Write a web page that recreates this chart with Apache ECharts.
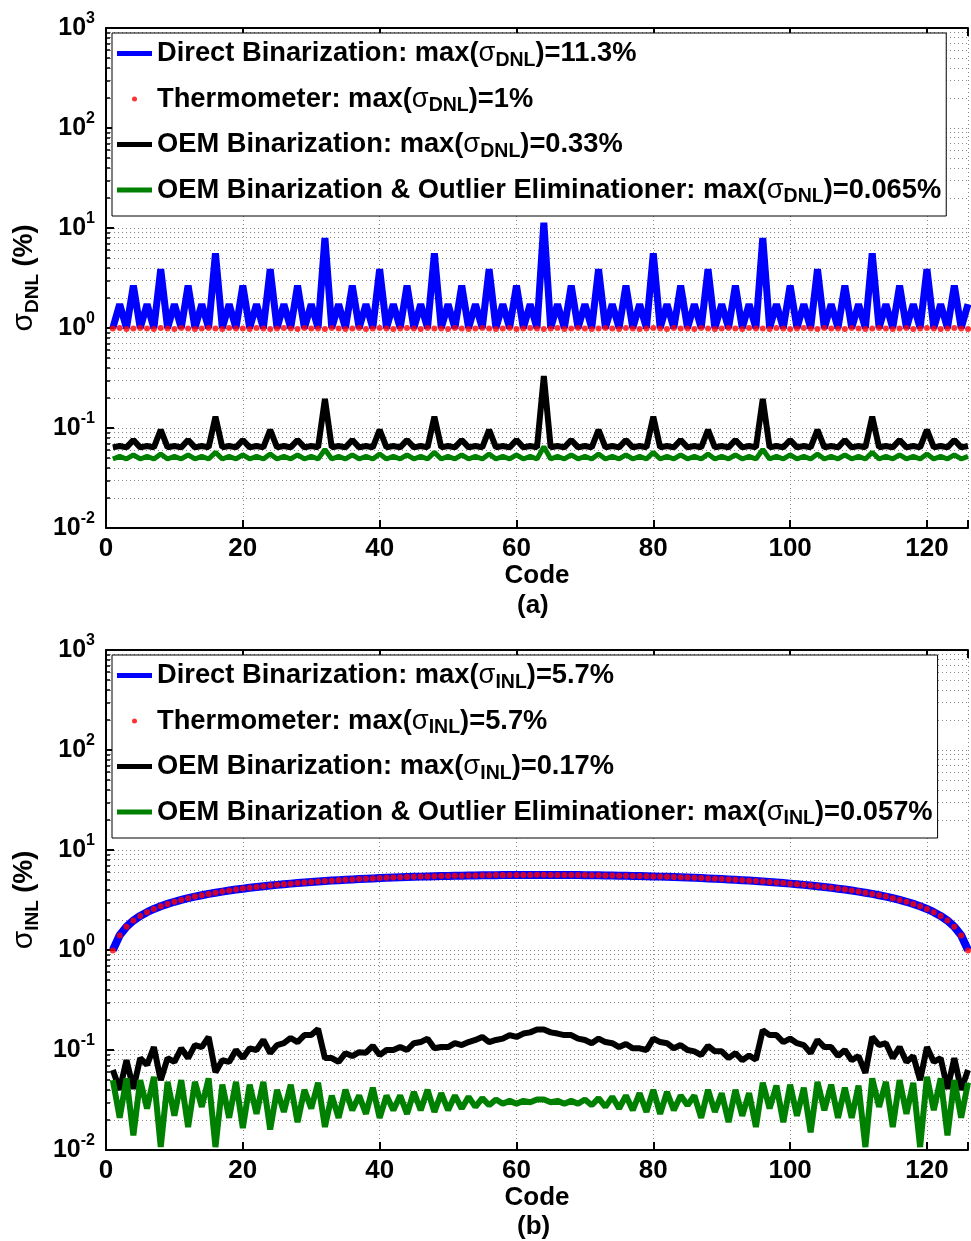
<!DOCTYPE html>
<html><head><meta charset="utf-8">
<script src="https://cdn.jsdelivr.net/npm/echarts@6/dist/echarts.min.js"></script>
<style>html,body{margin:0;padding:0;background:#fff;overflow:hidden}#c{width:971px;height:1241px}</style>
</head><body><div id="c"></div><script>
// ---------- DATA ----------
const codes = [1,2,3,4,5,6,7,8,9,10,11,12,13,14,15,16,17,18,19,20,21,22,23,24,25,26,27,28,29,30,31,32,
33,34,35,36,37,38,39,40,41,42,43,44,45,46,47,48,49,50,51,52,53,54,55,56,57,58,59,60,61,62,63,64,
65,66,67,68,69,70,71,72,73,74,75,76,77,78,79,80,81,82,83,84,85,86,87,88,89,90,91,92,93,94,95,96,
97,98,99,100,101,102,103,104,105,106,107,108,109,110,111,112,113,114,115,116,117,118,119,120,121,122,123,124,125,126];
const xTicks = [0,20,40,60,80,100,120];

const dnlDirect = [
1.0,1.73,1.0,2.65,1.0,1.73,1.0,3.87,1.0,1.73,1.0,2.65,1.0,1.73,1.0,5.57,
1.0,1.73,1.0,2.65,1.0,1.73,1.0,3.87,1.0,1.73,1.0,2.65,1.0,1.73,1.0,7.94,
1.0,1.73,1.0,2.65,1.0,1.73,1.0,3.87,1.0,1.73,1.0,2.65,1.0,1.73,1.0,5.57,
1.0,1.73,1.0,2.65,1.0,1.73,1.0,3.87,1.0,1.73,1.0,2.65,1.0,1.73,1.0,11.3,
1.0,1.73,1.0,2.65,1.0,1.73,1.0,3.87,1.0,1.73,1.0,2.65,1.0,1.73,1.0,5.57,
1.0,1.73,1.0,2.65,1.0,1.73,1.0,3.87,1.0,1.73,1.0,2.65,1.0,1.73,1.0,7.94,
1.0,1.73,1.0,2.65,1.0,1.73,1.0,3.87,1.0,1.73,1.0,2.65,1.0,1.73,1.0,5.57,
1.0,1.73,1.0,2.65,1.0,1.73,1.0,3.87,1.0,1.73,1.0,2.65,1.0,1.73];
const dnlThermo = [
0.99,1.0,0.98,0.99,1.0,0.99,0.98,1.0,0.99,0.98,1.0,0.99,0.98,0.99,1.0,0.99,
0.98,1.0,0.99,0.99,0.98,1.0,0.99,0.98,0.99,1.0,0.99,0.98,1.0,0.99,0.99,0.98,
1.0,0.99,0.98,0.99,1.0,0.98,0.99,1.0,0.99,0.98,0.99,1.0,0.99,0.98,1.0,0.99,
0.99,0.98,1.0,0.99,0.98,0.99,1.0,0.99,0.98,0.99,1.0,0.98,0.99,1.0,0.99,0.98,
0.99,1.0,0.98,0.99,1.0,0.99,0.98,0.99,1.0,0.99,0.98,1.0,0.99,0.98,0.99,1.0,
0.99,0.98,1.0,0.99,0.99,0.98,1.0,0.99,0.98,0.99,1.0,0.99,0.98,1.0,0.99,0.99,
0.98,1.0,0.99,0.98,0.99,1.0,0.99,0.98,1.0,0.99,0.99,0.98,1.0,0.99,0.98,0.99,
1.0,0.99,0.98,0.99,1.0,0.98,0.99,1.0,0.99,0.98,0.99,1.0,0.99,0.98];
const dnlOEM = [
0.064,0.066,0.064,0.076,0.064,0.066,0.064,0.096,0.064,0.066,0.064,0.076,0.064,0.066,0.064,0.13,
0.064,0.066,0.064,0.076,0.064,0.066,0.064,0.096,0.064,0.066,0.064,0.076,0.064,0.066,0.064,0.195,
0.064,0.066,0.064,0.076,0.064,0.066,0.064,0.096,0.064,0.066,0.064,0.076,0.064,0.066,0.064,0.13,
0.064,0.066,0.064,0.076,0.064,0.066,0.064,0.096,0.064,0.066,0.064,0.076,0.064,0.066,0.064,0.33,
0.064,0.066,0.064,0.076,0.064,0.066,0.064,0.096,0.064,0.066,0.064,0.076,0.064,0.066,0.064,0.13,
0.064,0.066,0.064,0.076,0.064,0.066,0.064,0.096,0.064,0.066,0.064,0.076,0.064,0.066,0.064,0.195,
0.064,0.066,0.064,0.076,0.064,0.066,0.064,0.096,0.064,0.066,0.064,0.076,0.064,0.066,0.064,0.13,
0.064,0.066,0.064,0.076,0.064,0.066,0.064,0.096,0.064,0.066,0.064,0.076,0.064,0.066];
const dnlOEMOE = [
0.049,0.052,0.049,0.054,0.049,0.052,0.049,0.055,0.049,0.052,0.049,0.054,0.049,0.052,0.049,0.057,
0.049,0.052,0.049,0.054,0.049,0.052,0.049,0.055,0.049,0.052,0.049,0.054,0.049,0.052,0.049,0.061,
0.049,0.052,0.049,0.054,0.049,0.052,0.049,0.055,0.049,0.052,0.049,0.054,0.049,0.052,0.049,0.057,
0.049,0.052,0.049,0.054,0.049,0.052,0.049,0.055,0.049,0.052,0.049,0.054,0.049,0.052,0.049,0.065,
0.049,0.052,0.049,0.054,0.049,0.052,0.049,0.055,0.049,0.052,0.049,0.054,0.049,0.052,0.049,0.057,
0.049,0.052,0.049,0.054,0.049,0.052,0.049,0.055,0.049,0.052,0.049,0.054,0.049,0.052,0.049,0.061,
0.049,0.052,0.049,0.054,0.049,0.052,0.049,0.055,0.049,0.052,0.049,0.054,0.049,0.052,0.049,0.057,
0.049,0.052,0.049,0.054,0.049,0.052,0.049,0.055,0.049,0.052,0.049,0.054,0.049,0.052];

const inlDirect = [
0.996,1.403,1.711,1.968,2.192,2.391,2.572,2.738,2.892,3.035,3.170,3.296,3.416,3.529,3.637,3.740,
3.837,3.931,4.020,4.105,4.187,4.265,4.340,4.412,4.481,4.547,4.611,4.672,4.731,4.787,4.841,4.893,
4.942,4.990,5.035,5.079,5.121,5.160,5.198,5.235,5.269,5.302,5.333,5.363,5.390,5.417,5.441,5.464,
5.486,5.506,5.525,5.542,5.557,5.571,5.584,5.595,5.605,5.614,5.621,5.626,5.630,5.633,5.635,
5.635,5.633,5.630,5.626,5.621,5.614,5.605,5.595,5.584,5.571,5.557,5.542,5.525,5.506,5.486,5.464,
5.441,5.417,5.390,5.363,5.333,5.302,5.269,5.235,5.198,5.160,5.121,5.079,5.035,4.990,4.942,4.893,
4.841,4.787,4.731,4.672,4.611,4.547,4.481,4.412,4.340,4.265,4.187,4.105,4.020,3.931,3.837,3.740,
3.637,3.529,3.416,3.296,3.170,3.035,2.892,2.738,2.572,2.391,2.192,1.968,1.711,1.403,0.996];
const inlThermo = [
0.99,1.40,1.71,1.97,2.19,2.39,2.57,2.74,2.89,3.04,3.17,3.30,3.42,3.53,3.64,3.74,
3.84,3.93,4.02,4.11,4.19,4.27,4.34,4.41,4.48,4.55,4.61,4.67,4.73,4.79,4.84,4.89,
4.94,4.99,5.04,5.08,5.12,5.16,5.20,5.24,5.27,5.30,5.33,5.36,5.39,5.42,5.44,5.46,
5.49,5.51,5.53,5.54,5.56,5.57,5.58,5.60,5.61,5.61,5.62,5.63,5.63,5.63,5.64,
5.64,5.63,5.63,5.63,5.62,5.61,5.61,5.60,5.58,5.57,5.56,5.54,5.53,5.51,5.49,5.46,
5.44,5.42,5.39,5.36,5.33,5.30,5.27,5.24,5.20,5.16,5.12,5.08,5.04,4.99,4.94,4.89,
4.84,4.79,4.73,4.67,4.61,4.55,4.48,4.41,4.34,4.27,4.19,4.11,4.02,3.93,3.84,3.74,
3.64,3.53,3.42,3.30,3.17,3.04,2.89,2.74,2.57,2.39,2.19,1.97,1.71,1.40,0.99];
const inlOEM = [
0.063,0.040,0.079,0.041,0.083,0.071,0.107,0.050,0.083,0.076,0.104,0.083,0.112,0.107,0.135,0.060,
0.079,0.076,0.100,0.083,0.104,0.100,0.126,0.093,0.112,0.117,0.132,0.120,0.141,0.141,0.162,0.083,
0.083,0.076,0.093,0.087,0.095,0.094,0.110,0.089,0.100,0.100,0.107,0.100,0.117,0.120,0.130,0.104,
0.107,0.107,0.117,0.112,0.120,0.126,0.135,0.120,0.126,0.130,0.141,0.135,0.146,0.150,0.160,0.160,
0.150,0.146,0.141,0.141,0.130,0.126,0.117,0.130,0.120,0.117,0.107,0.115,0.104,0.104,0.100,0.130,
0.120,0.117,0.104,0.112,0.100,0.097,0.089,0.110,0.097,0.097,0.083,0.093,0.079,0.088,0.080,0.158,
0.141,0.141,0.120,0.130,0.117,0.112,0.093,0.126,0.107,0.107,0.087,0.100,0.079,0.087,0.059,0.135,
0.112,0.117,0.083,0.107,0.076,0.087,0.050,0.107,0.076,0.083,0.041,0.083,0.040,0.063];
const inlOEMOE = [
0.050,0.021,0.052,0.014,0.050,0.026,0.054,0.0107,0.048,0.022,0.050,0.017,0.048,0.027,0.052,0.0107,
0.045,0.021,0.048,0.0166,0.045,0.023,0.048,0.016,0.040,0.024,0.045,0.019,0.040,0.026,0.047,0.017,
0.035,0.021,0.040,0.025,0.035,0.023,0.042,0.021,0.035,0.025,0.035,0.023,0.038,0.025,0.040,0.024,
0.037,0.025,0.035,0.026,0.034,0.027,0.033,0.028,0.032,0.029,0.031,0.029,0.031,0.030,0.032,0.032,
0.030,0.031,0.029,0.031,0.029,0.032,0.028,0.033,0.027,0.034,0.026,0.035,0.025,0.037,0.024,0.040,
0.023,0.038,0.025,0.035,0.028,0.035,0.021,0.040,0.024,0.037,0.019,0.040,0.022,0.037,0.017,0.047,
0.026,0.044,0.019,0.045,0.022,0.042,0.015,0.048,0.025,0.045,0.021,0.042,0.021,0.044,0.0107,0.052,
0.027,0.048,0.017,0.050,0.023,0.047,0.0107,0.054,0.025,0.052,0.014,0.050,0.021,0.047];

const dnlNames = ['Direct Binarization: max(σDNL)=11.3%','Thermometer: max(σDNL)=1%','OEM Binarization: max(σDNL)=0.33%','OEM Binarization & Outlier Eliminationer: max(σDNL)=0.065%'];
const dnlLabels = ['{b|Direct Binarization: max(}{g|σ}{s|DNL}{b|)=11.3%}','{b|Thermometer: max(}{g|σ}{s|DNL}{b|)=1%}','{b|OEM Binarization: max(}{g|σ}{s|DNL}{b|)=0.33%}','{b|OEM Binarization & Outlier Eliminationer: max(}{g|σ}{s|DNL}{b|)=0.065%}'];
const inlNames = ['Direct Binarization: max(σINL)=5.7%','Thermometer: max(σINL)=5.7%','OEM Binarization: max(σINL)=0.17%','OEM Binarization & Outlier Eliminationer: max(σINL)=0.057%'];
const inlLabels = ['{b|Direct Binarization: max(}{g|σ}{s|INL}{b|)=5.7%}','{b|Thermometer: max(}{g|σ}{s|INL}{b|)=5.7%}','{b|OEM Binarization: max(}{g|σ}{s|INL}{b|)=0.17%}','{b|OEM Binarization & Outlier Eliminationer: max(}{g|σ}{s|INL}{b|)=0.057%}'];

// ---------- CHART ----------
const FONT = '"Liberation Sans", Arial, sans-serif';
const labelMap = {};
dnlNames.forEach((n,i)=>labelMap[n]=dnlLabels[i]);
inlNames.forEach((n,i)=>labelMap[n]=inlLabels[i]);
const pairs = vals => vals.map((v,i)=>[codes[i], v]);

const richText = {
  b:{fontFamily:FONT,fontSize:27.3,fontWeight:'bold',color:'#000',lineHeight:34,verticalAlign:'middle'},
  g:{fontFamily:FONT,fontSize:27.3,fontWeight:'normal',color:'#000',lineHeight:34,verticalAlign:'middle'},
  s:{fontFamily:FONT,fontSize:19.5,fontWeight:'bold',color:'#000',lineHeight:12,verticalAlign:'bottom'}
};
const dotted = {color:'#888',width:1,type:[1,3]};

function legend(top, names){
  return {top, left:112, orient:'vertical', itemWidth:35, itemHeight:5, itemGap:15,
    padding:[7,5,9,5], backgroundColor:'#fff', borderColor:'#000', borderWidth:1,
    selectedMode:false,
    data: names.map((n,i)=>({name:n, icon: i===1?'circle':'rect'})),
    formatter: n => labelMap[n],
    textStyle:{color:'#000', fontFamily:FONT, fontSize:27, fontWeight:'bold', rich:richText}};
}
function xBottom(gi){
  return {gridIndex:gi, type:'value', min:0, max:126, interval:20, position:'bottom',
    axisLine:{lineStyle:{color:'#000',width:2}},
    axisTick:{inside:true,length:8,lineStyle:{color:'#000',width:2}},
    axisLabel:{color:'#000',fontFamily:FONT,fontSize:26,fontWeight:'bold',margin:8,
      formatter:v=> xTicks.indexOf(v)>=0 ? String(v) : ''},
    splitLine:{show:true,lineStyle:dotted},
    name:'Code', nameLocation:'middle', nameGap:33,
    nameTextStyle:{color:'#000',fontFamily:FONT,fontSize:26,fontWeight:'bold'}};
}
function xTop(gi){
  return {gridIndex:gi, type:'value', min:0, max:126, interval:20, position:'top',
    axisLine:{lineStyle:{color:'#000',width:2}},
    axisTick:{inside:true,length:8,lineStyle:{color:'#000',width:2}},
    axisLabel:{show:false}, splitLine:{show:false}};
}
function yLog(gi, sub){
  return {gridIndex:gi, type:'log', logBase:10, min:0.01, max:1000,
    axisLine:{lineStyle:{color:'#000',width:2}},
    axisTick:{inside:true,length:8,lineStyle:{color:'#000',width:2}},
    minorTick:{show:true,splitNumber:9,length:4,lineStyle:{color:'#000',width:1.5}},
    splitLine:{show:true,lineStyle:dotted},
    minorSplitLine:{show:true,lineStyle:dotted},
    axisLabel:{margin:11, formatter:v=>'{b|10}{s|'+Math.round(Math.log10(v))+'}',
      rich:{b:{fontFamily:FONT,fontSize:25,fontWeight:'bold',color:'#000',lineHeight:34,verticalAlign:'middle'},
            s:{fontFamily:FONT,fontSize:16,fontWeight:'bold',color:'#000',lineHeight:16,verticalAlign:'top'}}},
    name:'{g|σ}{s|'+sub+'}{b| (%)}', nameLocation:'middle', nameRotate:90, nameGap:43,
    nameTextStyle:{rich:{
      b:{fontFamily:FONT,fontSize:27,fontWeight:'bold',color:'#000',lineHeight:36,verticalAlign:'middle'},
      g:{fontFamily:FONT,fontSize:30,fontWeight:'normal',color:'#000',lineHeight:36,verticalAlign:'middle'},
      s:{fontFamily:FONT,fontSize:19,fontWeight:'bold',color:'#000',lineHeight:12,verticalAlign:'bottom'}}}};
}
function lineSeries(name, xi, yi, vals, color, w, z){
  return {name, type:'line', xAxisIndex:xi, yAxisIndex:yi, data:pairs(vals), symbol:'none', z,
    color, lineStyle:{color, width:w, join:'bevel'}, itemStyle:{color}};
}
function dotSeries(name, xi, yi, vals, size, z){
  return {name, type:'scatter', xAxisIndex:xi, yAxisIndex:yi, data:pairs(vals), symbol:'circle', z,
    symbolSize:size, color:'#ff0000', itemStyle:{color:'#ff0000'}};
}

const chart = echarts.init(document.getElementById('c'), null, {renderer:'canvas'});
chart.setOption({
  animation:false,
  backgroundColor:'#fff',
  grid:[{left:106, top:28, width:865, height:500},{left:106, top:650, width:865, height:500}],
  xAxis:[xBottom(0), xTop(0), xBottom(1), xTop(1)],
  yAxis:[yLog(0,'DNL'), yLog(1,'INL')],
  legend:[legend(33, dnlNames), legend(655, inlNames)],
  graphic:[
    {type:'text', left:517, top:593, style:{text:'(a)', font:'bold 26px '+FONT, fill:'#000'}},
    {type:'text', left:517, top:1214, style:{text:'(b)', font:'bold 26px '+FONT, fill:'#000'}}
  ],
  series:[
    lineSeries(dnlNames[0],0,0,dnlDirect,'#0000ff',7,3),
    dotSeries(dnlNames[1],0,0,dnlThermo,6,4),
    lineSeries(dnlNames[2],0,0,dnlOEM,'#000000',6,5),
    lineSeries(dnlNames[3],0,0,dnlOEMOE,'#008000',5,6),
    lineSeries(inlNames[0],2,1,inlDirect,'#0000ff',8,3),
    dotSeries(inlNames[1],2,1,inlThermo,6,4),
    lineSeries(inlNames[2],2,1,inlOEM,'#000000',6,5),
    lineSeries(inlNames[3],2,1,inlOEMOE,'#008000',6,6)
  ]
});
</script></body></html>
